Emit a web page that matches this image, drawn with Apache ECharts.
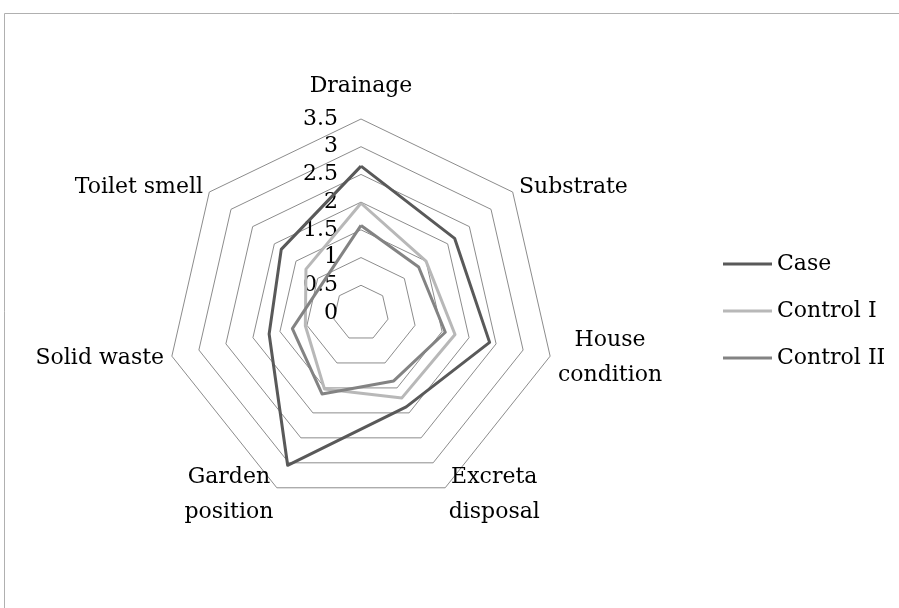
<!DOCTYPE html>
<html>
<head>
<meta charset="utf-8">
<script src="https://cdn.jsdelivr.net/npm/echarts@6/dist/echarts.min.js"></script>
<style>
html,body{margin:0;padding:0;background:#fff;}
#chart{width:899px;height:608px;}
</style>
</head>
<body>
<div id="chart"></div>
<script>
// Categories in clockwise order starting at the top
var categories = ['Drainage', 'Substrate', 'House\ncondition', 'Excreta\ndisposal', 'Garden\nposition', 'Solid waste', 'Toilet smell'];
var seriesNames = ['Case', 'Control I', 'Control II'];
var caseValues = [2.65, 2.16, 2.38, 1.88, 3.05, 1.70, 1.84];
var control1Values = [1.98, 1.50, 1.74, 1.70, 1.52, 1.03, 1.27];
var control2Values = [1.58, 1.33, 1.56, 1.36, 1.62, 1.27, 0.88];
var axisMin = 0;
var axisMax = 3.5;
var axisStep = 0.5;

var FONT = 'DejaVu Serif';
var FS = 22;
var colors = ['#595959', '#b8b8b8', '#838383'];

// ECharts radar runs counter-clockwise; reorder so the picture runs clockwise.
var order = categories.map(function (c, i) { return i === 0 ? 0 : categories.length - i; });
function reorder(arr) { return order.map(function (k) { return arr[k]; }); }

var indicators = reorder(categories).map(function (c, i) {
  var ind = { name: c, min: axisMin, max: axisMax };
  if (i === 0) {
    ind.nameGap = 15;
    ind.axisLabel = { show: true, showMinLabel: true, showMaxLabel: true, color: '#000', fontFamily: FONT, fontSize: FS, margin: 23 };
  }
  return ind;
});

var chart = echarts.init(document.getElementById('chart'), null, { renderer: 'canvas' });
chart.setOption({
  backgroundColor: '#fff',
  animation: false,
  graphic: [{
    type: 'rect', silent: true,
    shape: { x: 4.5, y: 13.5, width: 1200, height: 1200 },
    style: { fill: 'none', stroke: '#b0b0b0', lineWidth: 1 }
  }],
  legend: {
    orient: 'vertical',
    left: 723, top: 253,
    padding: 0,
    itemWidth: 49, itemHeight: 3, itemGap: 25,
    icon: 'rect',
    data: seriesNames,
    textStyle: { fontFamily: FONT, fontSize: FS, color: '#000', lineHeight: 22 }
  },
  radar: {
    center: [361, 313],
    radius: 194,
    startAngle: 90,
    splitNumber: (axisMax - axisMin) / axisStep,
    shape: 'polygon',
    axisNameGap: 8,
    axisName: {
      color: '#000',
      formatter: function (name) {
        return name.split('\n').map(function (s) { return '{c|' + s + '}'; }).join('\n');
      },
      rich: { c: { align: 'center', fontFamily: FONT, fontSize: FS, lineHeight: 35, color: '#000' } }
    },
    axisLine: { show: false },
    axisTick: { show: false },
    axisLabel: { show: false },
    splitArea: { show: false },
    splitLine: { lineStyle: { color: '#8c8c8c', width: 1 } },
    indicator: indicators
  },
  series: [{
    type: 'radar',
    symbol: 'none',
    data: [
      { name: seriesNames[0], value: reorder(caseValues), lineStyle: { color: colors[0], width: 3 }, itemStyle: { color: colors[0] } },
      { name: seriesNames[1], value: reorder(control1Values), lineStyle: { color: colors[1], width: 3 }, itemStyle: { color: colors[1] } },
      { name: seriesNames[2], value: reorder(control2Values), lineStyle: { color: colors[2], width: 3 }, itemStyle: { color: colors[2] } }
    ]
  }]
});
</script>
</body>
</html>
